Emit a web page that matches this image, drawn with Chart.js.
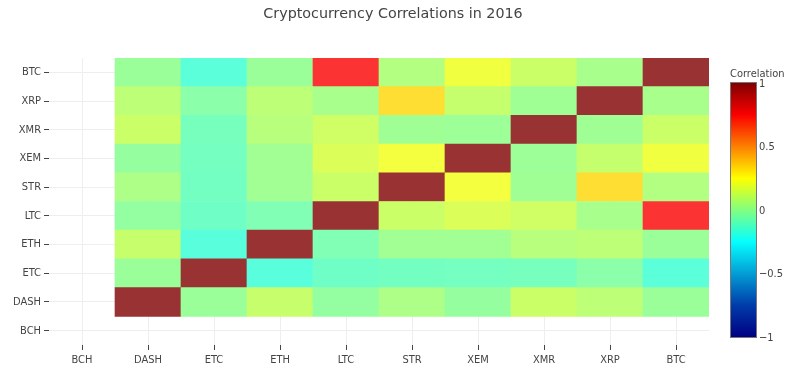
<!DOCTYPE html>
<html>
<head>
<meta charset="utf-8">
<script src="https://cdn.jsdelivr.net/npm/chart.js@4"></script>
<style>
  html, body { margin: 0; padding: 0; background: #fff; }
  #wrap { width: 800px; height: 378px; position: relative; }
</style>
</head>
<body>
<div id="wrap"><canvas id="c" width="800" height="378"></canvas></div>
<script>
// ---- Data ----
const titleText = 'Cryptocurrency Correlations in 2016';
const colorbarTitle = 'Correlation';
const coins = ['BCH', 'DASH', 'ETC', 'ETH', 'LTC', 'STR', 'XEM', 'XMR', 'XRP', 'BTC'];
// correlation rows (columns in the same order as coins); null = no data
const rowBCH  = [null, null, null, null, null, null, null, null, null, null];
const rowDASH = [null, 1, 0.0, 0.11, -0.02, 0.045, -0.015, 0.12, 0.085, 0.0];
const rowETC  = [null, 0.0, 1, -0.165, -0.11, -0.1, -0.095, -0.09, -0.04, -0.16];
const rowETH  = [null, 0.11, -0.165, 1, -0.065, 0.015, 0.015, 0.07, 0.085, 0.0];
const rowLTC  = [null, -0.02, -0.11, -0.065, 1, 0.12, 0.16, 0.13, 0.035, 0.75];
const rowSTR  = [null, 0.045, -0.1, 0.015, 0.12, 1, 0.22, 0.012, 0.33, 0.06];
const rowXEM  = [null, -0.015, -0.095, 0.015, 0.16, 0.22, 1, 0.005, 0.105, 0.215];
const rowXMR  = [null, 0.12, -0.09, 0.07, 0.13, 0.012, 0.005, 1, 0.012, 0.12];
const rowXRP  = [null, 0.085, -0.04, 0.085, 0.035, 0.33, 0.105, 0.012, 1, 0.033];
const rowBTC  = [null, 0.0, -0.16, 0.0, 0.75, 0.06, 0.215, 0.12, 0.033, 1];
const colorbarTicks = [1, 0.5, 0, -0.5, -1];
const zMin = -1, zMax = 1;

const rows = [rowBCH, rowDASH, rowETC, rowETH, rowLTC, rowSTR, rowXEM, rowXMR, rowXRP, rowBTC];

// ---- Jet colorscale (Plotly) ----
const jet = [
  [0, [0, 0, 131]], [0.125, [0, 60, 170]], [0.375, [5, 255, 255]],
  [0.625, [255, 255, 0]], [0.875, [250, 0, 0]], [1, [128, 0, 0]]
];
function jetColor(t) {
  t = Math.max(0, Math.min(1, t));
  for (let i = 1; i < jet.length; i++) {
    if (t <= jet[i][0]) {
      const [t0, c0] = jet[i - 1], [t1, c1] = jet[i];
      const f = (t - t0) / (t1 - t0);
      return c0.map((v, k) => v + (c1[k] - v) * f);
    }
  }
  return jet[jet.length - 1][1];
}
const OPACITY = 0.8;
function cellColor(v) {
  const c = jetColor((v - zMin) / (zMax - zMin));
  const b = c.map(x => Math.round(x * OPACITY + 255 * (1 - OPACITY)));
  return `rgb(${b[0]},${b[1]},${b[2]})`;
}

const FONT = "'DejaVu Sans Condensed', 'DejaVu Sans', sans-serif";
const TFONT = "'DejaVu Sans', sans-serif";
const TXT = '#444';

const datasets = rows.map((row, r) => ({
  label: coins[r],
  data: row.map(v => (v === null ? null : [r - 0.5, r + 0.5])),
  backgroundColor: row.map(v => (v === null ? 'rgba(0,0,0,0)' : cellColor(v))),
  borderWidth: 0,
  grouped: false,
  barPercentage: 1,
  categoryPercentage: 1
}));

const titlePlugin = {
  id: 'plotTitle',
  afterDraw(chart) {
    const ctx = chart.ctx;
    ctx.save();
    ctx.fillStyle = TXT;
    ctx.font = `14.3px ${TFONT}`;
    ctx.textAlign = 'center';
    ctx.textBaseline = 'alphabetic';
    ctx.fillText(titleText, 393, 18);
    ctx.restore();
  }
};

const colorbarPlugin = {
  id: 'colorbar',
  afterDraw(chart) {
    const ctx = chart.ctx;
    const x0 = 731, w = 25, yTop = 83, yBot = 337;
    const ys = v => yBot - (v - zMin) / (zMax - zMin) * (yBot - yTop);
    ctx.save();
    const g = ctx.createLinearGradient(0, yBot, 0, yTop);
    jet.forEach(([t, c]) => g.addColorStop(t, `rgb(${c[0]},${c[1]},${c[2]})`));
    ctx.fillStyle = g;
    ctx.fillRect(x0, yTop, w, yBot - yTop);
    ctx.strokeStyle = '#777';
    ctx.lineWidth = 1;
    ctx.strokeRect(x0 - 0.5, yTop - 0.5, w + 1, yBot - yTop + 1);
    ctx.fillStyle = TXT;
    ctx.font = `11px ${FONT}`;
    ctx.textAlign = 'left';
    ctx.textBaseline = 'middle';
    colorbarTicks.forEach(v => {
      const s = v < 0 ? '\u2212' + Math.abs(v) : String(v);
      ctx.fillText(s, x0 + w + 3, ys(v) + 1);
    });
    ctx.textBaseline = 'alphabetic';
    ctx.fillText(colorbarTitle, 730, 77);
    ctx.restore();
  }
};

new Chart(document.getElementById('c'), {
  type: 'bar',
  data: { labels: coins, datasets },
  options: {
    responsive: false,
    animation: false,
    layout: { padding: { top: 58, right: 91, left: 0, bottom: 0 } },
    plugins: { legend: { display: false }, tooltip: { enabled: false }, title: { display: false } },
    scales: {
      x: {
        type: 'category',
        offset: true,
        grid: { offset: false, color: '#eee', tickColor: TXT, tickLength: 5, drawTicks: true },
        border: { display: false },
        ticks: { color: TXT, font: { family: FONT, size: 11 }, padding: 4, maxRotation: 0, autoSkip: false },
        afterFit(s) { s.height = 33; }
      },
      y: {
        type: 'linear',
        min: -0.5,
        max: 9.5,
        afterBuildTicks(s) { s.ticks = coins.map((_, i) => ({ value: i })); },
        grid: { color: '#eee', tickColor: TXT, tickLength: 5, drawTicks: true },
        border: { display: false },
        ticks: {
          color: TXT, font: { family: FONT, size: 11 }, padding: 3,
          callback: v => coins[v]
        },
        afterFit(s) { s.width = 49; }
      }
    }
  },
  plugins: [titlePlugin, colorbarPlugin]
});
</script>
</body>
</html>
